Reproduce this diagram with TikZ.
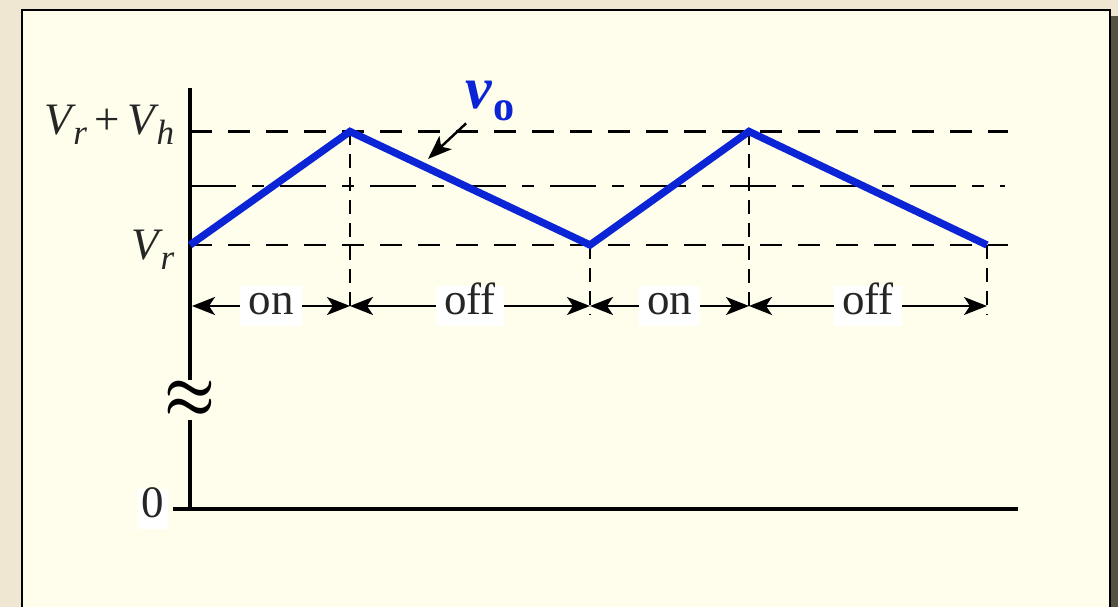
\documentclass[tikz,border=0pt]{standalone}
\usepackage{fontspec}
\setmainfont{Liberation Serif}
\usepackage{graphicx}
\usepackage{tikz}
\usetikzlibrary{arrows.meta,positioning}
\definecolor{PanelYellow}{RGB}{255,254,236}
\definecolor{DeskBeige}{RGB}{239,231,210}
\definecolor{ShadowBrown}{RGB}{88,82,66}
\definecolor{WaveBlue}{RGB}{10,36,214}
\definecolor{InkGray}{RGB}{38,38,38}
\newcommand{\vsub}[1]{\textit{V}\kern-0.06em\raisebox{-0.22em}{\fontsize{10}{11}\selectfont\textit{#1}}}
\tikzset{
  axis/.style={line width=1.2pt,black},
  level/.style={line width=0.6pt,dash pattern=on 2.2mm off 1.6mm},
  midlevel/.style={line width=0.6pt,dash pattern=on 4.6mm off 1.6mm on 1.2mm off 1.6mm},
  drop/.style={line width=0.6pt,dash pattern=on 1.4mm off 0.9mm},
  wave/.style={line width=2.1pt,WaveBlue},
  span/.style={{Stealth[length=2.3mm,width=1.8mm,inset=0.6mm]}-{Stealth[length=2.3mm,width=1.8mm,inset=0.6mm]},
    line width=0.65pt},
  phase/.style={fill=white,text=InkGray,inner xsep=2.3pt,inner ysep=0.9pt,
    text height=0.72em,text depth=0.22em},
  ticklabel/.style={text=InkGray,inner sep=0pt},
  pointer/.style={-{Stealth[length=2.4mm,width=1.8mm,inset=0.6mm]},line width=0.7pt}
}
\begin{document}
\begin{tikzpicture}[x=1mm,y=1mm,font=\fontsize{12.8}{15}\selectfont]
  \useasboundingbox (0,0) rectangle (111.8,60.7);
  % panel
  \fill[DeskBeige] (0,0) rectangle (111.8,60.7);
  \fill[ShadowBrown] (2.8,-1) rectangle (111.8,59.1);
  \filldraw[fill=PanelYellow,draw=black,line width=0.6pt] (2.2,-1) rectangle (111.0,59.7);

  % corners of the ripple
  \coordinate (s0) at (19,36.2);
  \coordinate (p1) at (35,47.55);
  \coordinate (s1) at (59,36.2);
  \coordinate (p2) at (74.9,47.55);
  \coordinate (s2) at (98.7,36.2);
  \coordinate (b1) at (35,29.2);
  \coordinate (b2) at (59,29.2);
  \coordinate (b3) at (74.9,29.2);
  \coordinate (b4) at (98.7,29.2);

  % levels
  \draw[level] (19,47.55) -- (100.8,47.55);
  \draw[midlevel] (19,42.1) -- (100.5,42.1);
  \draw[level] (s0) -- (100.8,36.2);
  \draw[drop] (p1) -- (b1);
  \draw[drop] (s1) -- (b2);
  \draw[drop] (p2) -- (b3);
  \draw[drop] (s2) -- (b4);

  % axes
  \draw[axis] (19,51.9) -- (19,9.8);
  \draw[axis] (17.3,9.8) -- (101.8,9.8);
  \node[fill=PanelYellow,inner sep=0.3pt] (brk) at (19,20.7)
    {\scalebox{1.35}[1.6]{\boldmath$\approx$}};
  \node[ticklabel,anchor=base east] (top) at (17.5,47.2) {\vsub{r}\,+\,\vsub{h}};
  \node[ticklabel,anchor=base east] (bot) at (17.5,34.7) {\vsub{r}};
  \node[phase,anchor=east,inner xsep=1.2pt] (zero) at (16.9,9.8) {0};

  % ripple
  \draw[wave] (s0) -- (p1) -- (s1) -- (p2) -- (s2);
  \node[text=WaveBlue,inner sep=0.5pt] (vo) at (49.0,50.6)
    {\fontsize{17}{19}\selectfont\textbf{\textit{v}}\kern0.02em\raisebox{-0.2em}{\fontsize{12}{13}\selectfont\textbf{o}}};
  \coordinate (votip) at (42.8,44.8);
  \draw[pointer] (vo) -- (votip);

  % switch intervals
  \coordinate (a0) at (19.2,30.1);
  \coordinate (a1) at (35,30.1);
  \coordinate (a2) at (59,30.1);
  \coordinate (a3) at (74.9,30.1);
  \coordinate (a4) at (98.7,30.1);
  \draw[span] (a0) -- node[phase] (on1) {on} (a1);
  \draw[span] (a1) -- node[phase] (off1) {off} (a2);
  \draw[span] (a2) -- node[phase] (on2) {on} (a3);
  \draw[span] (a3) -- node[phase] (off2) {off} (a4);
\end{tikzpicture}
\end{document}
